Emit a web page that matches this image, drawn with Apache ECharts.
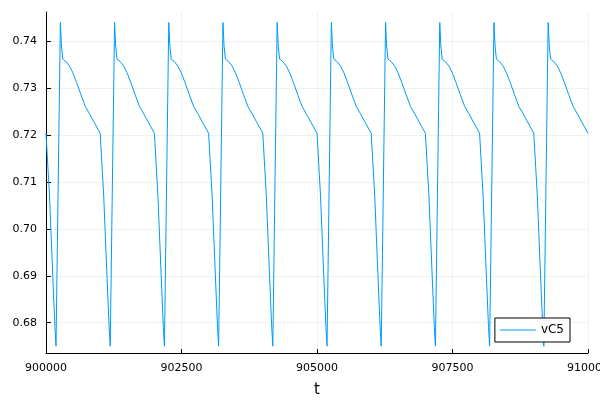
<!DOCTYPE html>
<html>
<head>
<meta charset="utf-8">
<script src="https://cdn.jsdelivr.net/npm/echarts@6/dist/echarts.min.js"></script>
<style>
html,body{margin:0;padding:0;background:#fff;}
#chart{width:600px;height:400px;}
</style>
</head>
<body>
<div id="chart"></div>
<script>
// time values (t)
const tValues = [
  900000, 900065, 900125, 900165, 900185, 900215,
  900265, 900285, 900310, 900365, 900435, 900495, 900565, 900645, 900725, 900805, 900885, 901000, 901065, 901125, 901165, 901185, 901215,
  901265, 901285, 901310, 901365, 901435, 901495, 901565, 901645, 901725, 901805, 901885, 902000, 902065, 902125, 902165, 902185, 902215,
  902265, 902285, 902310, 902365, 902435, 902495, 902565, 902645, 902725, 902805, 902885, 903000, 903065, 903125, 903165, 903185, 903215,
  903265, 903285, 903310, 903365, 903435, 903495, 903565, 903645, 903725, 903805, 903885, 904000, 904065, 904125, 904165, 904185, 904215,
  904265, 904285, 904310, 904365, 904435, 904495, 904565, 904645, 904725, 904805, 904885, 905000, 905065, 905125, 905165, 905185, 905215,
  905265, 905285, 905310, 905365, 905435, 905495, 905565, 905645, 905725, 905805, 905885, 906000, 906065, 906125, 906165, 906185, 906215,
  906265, 906285, 906310, 906365, 906435, 906495, 906565, 906645, 906725, 906805, 906885, 907000, 907065, 907125, 907165, 907185, 907215,
  907265, 907285, 907310, 907365, 907435, 907495, 907565, 907645, 907725, 907805, 907885, 908000, 908065, 908125, 908165, 908185, 908215,
  908265, 908285, 908310, 908365, 908435, 908495, 908565, 908645, 908725, 908805, 908885, 909000, 909065, 909125, 909165, 909185, 909215,
  909265, 909285, 909310, 909365, 909435, 909495, 909565, 909645, 909725, 909805, 909885, 910000
];
// vC5 values
const vC5 = [
  0.7204, 0.7070, 0.6900, 0.6790, 0.6750, 0.7010,
  0.7440, 0.7390, 0.7362, 0.7357, 0.7347, 0.7333, 0.7312, 0.7286, 0.7261, 0.7245, 0.7228, 0.7204, 0.7070, 0.6900, 0.6790, 0.6750, 0.7010,
  0.7440, 0.7390, 0.7362, 0.7357, 0.7347, 0.7333, 0.7312, 0.7286, 0.7261, 0.7245, 0.7228, 0.7204, 0.7070, 0.6900, 0.6790, 0.6750, 0.7010,
  0.7440, 0.7390, 0.7362, 0.7357, 0.7347, 0.7333, 0.7312, 0.7286, 0.7261, 0.7245, 0.7228, 0.7204, 0.7070, 0.6900, 0.6790, 0.6750, 0.7010,
  0.7440, 0.7390, 0.7362, 0.7357, 0.7347, 0.7333, 0.7312, 0.7286, 0.7261, 0.7245, 0.7228, 0.7204, 0.7070, 0.6900, 0.6790, 0.6750, 0.7010,
  0.7440, 0.7390, 0.7362, 0.7357, 0.7347, 0.7333, 0.7312, 0.7286, 0.7261, 0.7245, 0.7228, 0.7204, 0.7070, 0.6900, 0.6790, 0.6750, 0.7010,
  0.7440, 0.7390, 0.7362, 0.7357, 0.7347, 0.7333, 0.7312, 0.7286, 0.7261, 0.7245, 0.7228, 0.7204, 0.7070, 0.6900, 0.6790, 0.6750, 0.7010,
  0.7440, 0.7390, 0.7362, 0.7357, 0.7347, 0.7333, 0.7312, 0.7286, 0.7261, 0.7245, 0.7228, 0.7204, 0.7070, 0.6900, 0.6790, 0.6750, 0.7010,
  0.7440, 0.7390, 0.7362, 0.7357, 0.7347, 0.7333, 0.7312, 0.7286, 0.7261, 0.7245, 0.7228, 0.7204, 0.7070, 0.6900, 0.6790, 0.6750, 0.7010,
  0.7440, 0.7390, 0.7362, 0.7357, 0.7347, 0.7333, 0.7312, 0.7286, 0.7261, 0.7245, 0.7228, 0.7204, 0.7070, 0.6900, 0.6790, 0.6750, 0.7010,
  0.7440, 0.7390, 0.7362, 0.7357, 0.7347, 0.7333, 0.7312, 0.7286, 0.7261, 0.7245, 0.7228, 0.7204
];
const yTicks = [0.68, 0.69, 0.70, 0.71, 0.72, 0.73, 0.74];
const xTicks = [900000, 902500, 905000, 907500, 910000];
const seriesName = 'vC5';
const xName = 't';

const data = tValues.map((t, i) => [t, vC5[i]]);
const font = 'DejaVu Sans';
const chart = echarts.init(document.getElementById('chart'), null, {renderer: 'canvas'});
chart.setOption({
  animation: false,
  backgroundColor: '#ffffff',
  textStyle: {fontFamily: font},
  grid: {left: 46, right: 12, top: 12, bottom: 47, containLabel: false, outerBoundsMode: 'none'},
  legend: {
    right: 30, top: 318,
    padding: [5, 6, 5, 5],
    borderColor: '#000', borderWidth: 1, borderRadius: 0,
    backgroundColor: '#fff',
    icon: 'rect',
    itemWidth: 36, itemHeight: 1, itemGap: 5,
    textStyle: {fontFamily: font, fontSize: 12, color: '#000', lineHeight: 14},
    data: [seriesName]
  },
  xAxis: {
    type: 'value',
    min: 900000, max: 910000, interval: 2500,
    name: xName, nameLocation: 'middle', nameGap: 30,
    nameTextStyle: {fontFamily: font, fontSize: 15, color: '#000'},
    axisLine: {show: true, onZero: false, lineStyle: {color: '#000', width: 1}},
    axisTick: {show: true, inside: true, length: 4, lineStyle: {color: '#000'}},
    axisLabel: {fontFamily: font, fontSize: 11, color: '#000', margin: 10, hideOverlap: false, formatter: v => String(v)},
    splitLine: {show: true, lineStyle: {color: 'rgba(0,0,0,0.06)', width: 1}}
  },
  yAxis: {
    type: 'value',
    min: 0.67355, max: 0.74624,
    axisLine: {show: true, onZero: false, lineStyle: {color: '#000', width: 1}},
    axisTick: {show: true, inside: true, length: 5, lineStyle: {color: '#000'}, customValues: yTicks},
    axisLabel: {fontFamily: font, fontSize: 11, color: '#000', margin: 9, customValues: yTicks, formatter: v => v.toFixed(2)},
    splitLine: {show: true, lineStyle: {color: 'rgba(0,0,0,0.06)', width: 1}}
  },
  series: [{
    name: seriesName,
    type: 'line',
    data: data,
    symbol: 'none',
    showSymbol: false,
    smooth: false,
    lineStyle: {color: '#009AFA', width: 1},
    itemStyle: {color: '#009AFA'}
  }]
});
</script>
</body>
</html>
